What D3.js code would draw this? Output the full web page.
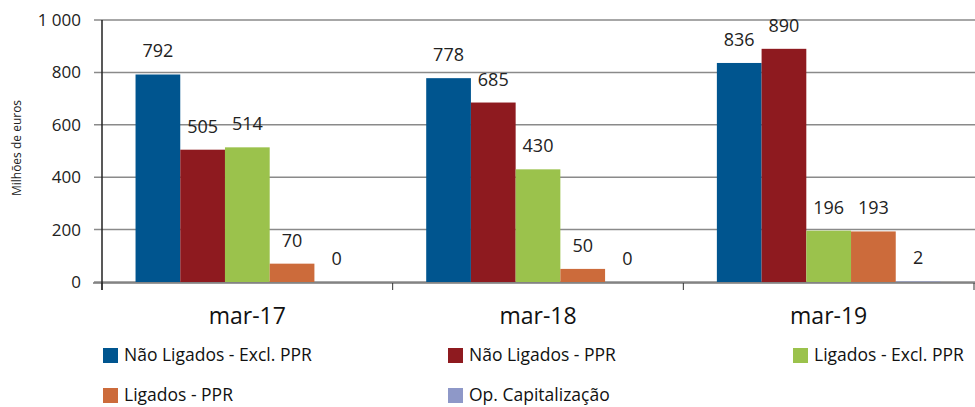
<!DOCTYPE html>
<html>
<head>
<meta charset="utf-8">
<script src="https://cdn.jsdelivr.net/npm/d3@7"></script>
<style>
  body { margin: 0; background: #fff; }
  svg { display: block; font-family: "Open Sans", Lato, sans-serif; }
</style>
</head>
<body>
<svg id="chart" width="975" height="407"></svg>
<script>
const categories = ["mar-17", "mar-18", "mar-19"];
const seriesNames = [
  "Não Ligados - Excl. PPR",
  "Não Ligados - PPR",
  "Ligados - Excl. PPR",
  "Ligados - PPR",
  "Op. Capitalização"
];
const seriesColors = ["#00558f", "#8e1a1f", "#9bc24c", "#cc6b3b", "#8e98c8"];
const naoLigadosExcl = [792, 778, 836];
const naoLigadosPPR = [505, 685, 890];
const ligadosExcl = [514, 430, 196];
const ligadosPPR = [70, 50, 193];
const opCapitalizacao = [0, 0, 2];
const yTicks = [0, 200, 400, 600, 800, 1000];

const seriesValues = [naoLigadosExcl, naoLigadosPPR, ligadosExcl, ligadosPPR, opCapitalizacao];

const svg = d3.select("#chart");

const x0 = d3.scaleBand().domain(categories).range([102, 974]);
const x1 = d3.scaleBand().domain(seriesNames).range([0, x0.bandwidth()]).paddingOuter(0.75);
const y = d3.scaleLinear().domain([0, 1000]).range([282, 20]);

const fmt = v => d3.format(",")(v).replace(/,/g, " ");

// gridlines
svg.append("g")
  .selectAll("line")
  .data(yTicks)
  .join("line")
  .attr("x1", 94)
  .attr("x2", 975)
  .attr("y1", d => y(d))
  .attr("y2", d => y(d))
  .attr("stroke", "#8a8a8a")
  .attr("stroke-width", 1.5);

// y tick labels
svg.append("g")
  .selectAll("text")
  .data(yTicks)
  .join("text")
  .attr("x", 81)
  .attr("y", d => y(d))
  .attr("dy", "0.35em")
  .attr("text-anchor", "end")
  .style("font-size", "17px")
  .style("fill", "#222")
  .text(fmt);

// y axis title
svg.append("text")
  .attr("transform", "translate(21,148) rotate(-90)")
  .attr("text-anchor", "middle")
  .style("font-size", "12px")
  .style("fill", "#222")
  .text("Milhões de euros");

// bars
const groups = svg.append("g")
  .selectAll("g")
  .data(categories)
  .join("g")
  .attr("transform", d => `translate(${x0(d)},0)`);

groups.selectAll("rect")
  .data((c, i) => seriesNames.map((s, j) => ({ s, j, v: seriesValues[j][i] })))
  .join("rect")
  .attr("x", d => x1(d.s))
  .attr("y", d => y(d.v))
  .attr("width", x1.bandwidth())
  .attr("height", d => y(0) - y(d.v))
  .attr("fill", d => seriesColors[d.j]);

groups.selectAll("text")
  .data((c, i) => seriesNames.map((s, j) => ({ s, j, v: seriesValues[j][i] })))
  .join("text")
  .attr("x", d => x1(d.s) + x1.bandwidth() / 2)
  .attr("y", d => y(d.v) - 17)
  .attr("text-anchor", "middle")
  .style("font-size", "18px")
  .style("fill", "#222")
  .text(d => d.v);

// x axis
svg.append("line")
  .attr("x1", 93).attr("x2", 975)
  .attr("y1", 283).attr("y2", 283)
  .attr("stroke", "#777")
  .attr("stroke-width", 1.5);

svg.append("g")
  .selectAll("line")
  .data(categories.map(c => x0(c)).concat([x0.range()[1]]))
  .join("line")
  .attr("x1", d => d).attr("x2", d => d)
  .attr("y1", 283).attr("y2", 290)
  .attr("stroke", "#333")
  .attr("stroke-width", 1);

// y axis line
svg.append("line")
  .attr("x1", 102).attr("x2", 102)
  .attr("y1", 20).attr("y2", 290)
  .attr("stroke", "#222")
  .attr("stroke-width", 1.5);

svg.append("g")
  .selectAll("text")
  .data(categories)
  .join("text")
  .attr("x", d => x0(d) + x0.bandwidth() / 2)
  .attr("y", 324)
  .attr("text-anchor", "middle")
  .style("font-size", "23px")
  .style("fill", "#111")
  .text(d => d);

// legend
const legendX = [103, 448, 793, 103, 448];
const legendY = [355, 355, 355, 395, 395];
const legend = svg.append("g")
  .selectAll("g")
  .data(seriesNames)
  .join("g")
  .attr("transform", (d, i) => `translate(${legendX[i]},${legendY[i]})`);

legend.append("rect")
  .attr("x", 0).attr("y", -7)
  .attr("width", 15).attr("height", 15)
  .attr("fill", (d, i) => seriesColors[i]);

legend.append("text")
  .attr("x", 21)
  .attr("y", 0)
  .attr("dy", "0.35em")
  .style("font-size", "17.5px")
  .style("fill", "#111")
  .text(d => d);
</script>
</body>
</html>
